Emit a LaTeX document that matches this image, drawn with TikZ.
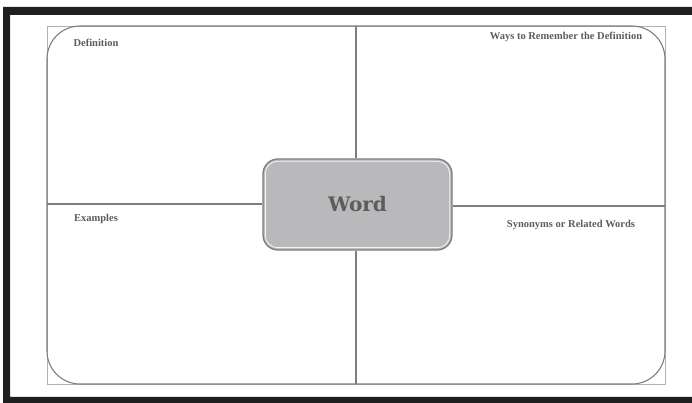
\documentclass[tikz,border=0pt]{standalone}
\usepackage{fontspec}
\setmainfont{Liberation Serif}
\newfontfamily\wordfont{DejaVu Serif}
\usepackage{xcolor}
\definecolor{linegray}{HTML}{7E7E80}
\definecolor{boxgray}{HTML}{B9B9BB}
\definecolor{textgray}{HTML}{5C5C5C}
\tikzset{
  gridline/.style={linegray, line width=1.1pt},
  headtext/.style={text=textgray, font=\bfseries\fontsize{10.5}{12}\selectfont, inner sep=0pt},
  wordbox/.style={draw=linegray, fill=boxgray, line width=1.3pt, rounded corners=15pt,
    minimum width=189pt, minimum height=91pt, text=textgray,
    font=\wordfont\bfseries\fontsize{20}{24}\selectfont}
}

\begin{document}
\begin{tikzpicture}[x=1pt,y=1pt]
    \useasboundingbox (0,0) rectangle (692,403);
    % black frame of the page
    \fill[black!88,even odd rule] (3,0) rectangle (700,396) (10,6) rectangle (700,388);
    % outer box, square and rounded
    \draw[linegray!60, line width=0.9pt] (47,19) rectangle (665,377);
    \draw[gridline, rounded corners=33pt] (47,19) rectangle (665,377);
    \node[wordbox] (word) at (357.5,198.5) {Word};
    \draw[white!85!boxgray, line width=0.8pt, rounded corners=12pt] ([shift={(3,-3)}]word.north west) rectangle ([shift={(-3,3)}]word.south east);
    \coordinate (top) at (356,377);
    \coordinate (bottom) at (356,19);
    \coordinate (left) at (47,199);
    \coordinate (right) at (665,197);
    \draw[gridline] (word.north -| top) -- (top);
    \draw[gridline] (word.south -| bottom) -- (bottom);
    \draw[gridline] (word.west |- left) -- (left);
    \draw[gridline] (word.east |- right) -- (right);
    \node[headtext] (definition) at (96,360) {Definition};
    \node[headtext] (ways) at (566,366) {Ways to Remember the Definition};
    \node[headtext] (examples) at (96,184) {Examples};
    \node[headtext] (synonyms) at (571,178) {Synonyms or Related Words};
  \end{tikzpicture}
\end{document}
